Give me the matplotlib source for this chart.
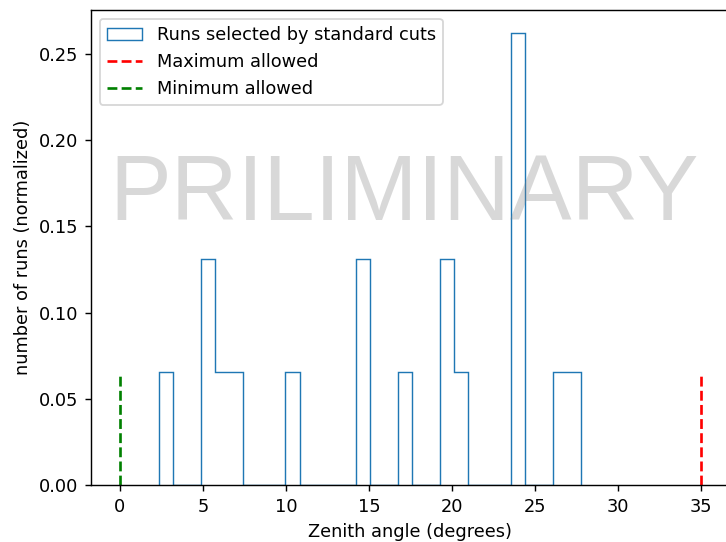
import matplotlib
matplotlib.use('Agg')
import matplotlib.pyplot as plt

# zenith angles of runs passing the standard cuts (degrees)
zenith_angles = [2.35, 5.0, 5.5, 6.0, 7.0, 10.3, 14.5, 14.8, 17.2,
                 19.6, 19.9, 20.5, 23.8, 23.9, 24.0, 24.2, 26.5, 27.77]
n_bins = 30
zenith_min = 0
zenith_max = 35
cut_line_height = 0.0656

fig, ax = plt.subplots(figsize=(726 / 128, 542 / 128), dpi=128)
fig.subplots_adjust(left=0.125, right=1.0055, top=0.9815, bottom=0.105)

# thin step outline so the zero baseline stays hidden under the spine
ax.hist(zenith_angles, bins=n_bins, density=True, histtype='step',
        linewidth=0.8, label='Runs selected by standard cuts')
ax.vlines(zenith_max, 0, cut_line_height, colors='red', linestyles='--',
          label='Maximum allowed')
ax.vlines(zenith_min, 0, cut_line_height, colors='green', linestyles='--',
          label='Minimum allowed')

ax.text(0.49, 0.558, 'PRILIMINARY', transform=ax.transAxes, fontsize=52,
        family='Liberation Sans', color='gray', alpha=0.3,
        ha='center', va='baseline')

ax.set_xlabel('Zenith angle (degrees)')
ax.set_ylabel('number of runs (normalized)')
ax.legend(loc='upper left')

plt.savefig('out.png')
